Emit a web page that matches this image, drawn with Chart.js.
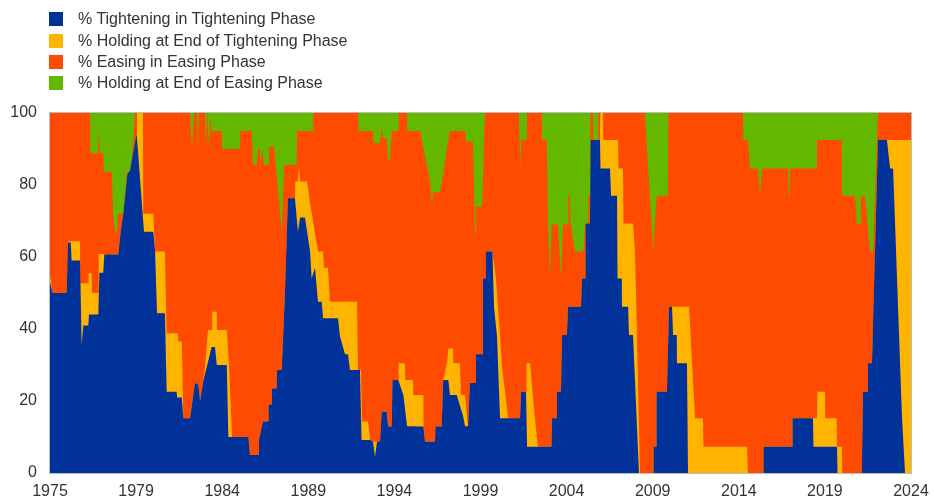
<!DOCTYPE html>
<html>
<head>
<meta charset="utf-8">
<title>Monetary policy phases</title>
<style>
  html, body { margin: 0; padding: 0; background: #fff; }
  #wrap { position: relative; width: 934px; height: 503px; }
  #legend {
    position: absolute; left: 49px; top: 8.7px;
    font: 16px "Liberation Sans", Arial, sans-serif; color: #333;
  }
  #legend .item { height: 21.3px; display: flex; align-items: center; white-space: nowrap; }
  #legend .box { width: 14px; height: 14px; margin-right: 15px; flex: none; }
</style>
</head>
<body>
<div id="wrap">
  <canvas id="chart" width="934" height="503"></canvas>
  <div id="legend"></div>
</div>

<script src="https://cdn.jsdelivr.net/npm/chart.js"></script>
<script>
  // Series names, bottom layer first
  const seriesNames = [
    "% Tightening in Tightening Phase",
    "% Holding at End of Tightening Phase",
    "% Easing in Easing Phase",
    "% Holding at End of Easing Phase",
  ];

  const xTickLabels = ["1975", "1979", "1984", "1989", "1994", "1999", "2004", "2009", "2014", "2019", "2024"];
  const yTicks = [0, 20, 40, 60, 80, 100];

  // Upper edge of each stacked layer, [year, cumulative %]
  const tighteningTop = [
    [1975.00,53],[1975.15,50],[1975.95,50],[1976.02,64],[1976.18,64],[1976.23,59],[1976.71,59],[1976.80,35.6],
    [1976.90,41],[1977.18,41],[1977.22,44],[1977.75,44],[1977.81,55.6],[1978.03,55.6],[1978.09,60.7],[1978.89,60.7],
    [1979.02,67],[1979.17,72],[1979.40,83],[1979.55,84],[1979.93,94.4],[1980.35,67],[1980.88,67],[1980.98,61.5],
    [1981.09,44.4],[1981.54,44.4],[1981.64,22.6],[1982.21,22.6],[1982.23,21],[1982.50,21],[1982.59,15.2],[1982.97,15.2],
    [1983.25,25],[1983.44,24.5],[1983.54,20],[1983.72,25.5],[1984.20,35],[1984.39,35],[1984.49,30],[1985.06,30],
    [1985.15,10],[1986.29,10],[1986.38,5],[1986.85,5],[1986.89,9.2],[1987.12,14.3],[1987.41,14.3],[1987.44,19],
    [1987.62,19],[1987.63,23.5],[1987.90,23.5],[1987.92,28.6],[1988.19,28.6],[1988.37,50],[1988.54,76.3],[1988.94,76.3],
    [1989.11,67],[1989.23,71],[1989.51,71],[1989.80,61.5],[1989.89,54],[1990.08,57],[1990.25,47.6],[1990.46,47.6],
    [1990.54,43],[1991.39,43],[1991.50,38],[1991.79,33],[1991.96,33],[1992.07,28.6],[1992.64,28.6],[1992.73,9.2],
    [1993.21,9.2],[1993.38,8.7],[1993.50,4.5],[1993.61,8.7],[1993.78,8.7],[1993.88,17],[1994.16,17],[1994.24,12.9],
    [1994.45,12.9],[1994.49,25.8],[1994.82,25.8],[1995.11,21.7],[1995.32,13],[1996.25,12.9],[1996.34,8.7],[1996.91,8.7],
    [1996.94,12.9],[1997.29,12.9],[1997.38,25.8],[1997.67,25.8],[1997.76,21.7],[1998.15,21.7],[1998.50,16],[1998.62,13],
    [1998.79,13],[1998.90,25],[1999.19,25],[1999.24,33],[1999.59,33],[1999.64,54],[1999.76,54],[1999.81,61.5],
    [2000.18,61.5],[2000.27,46],[2000.44,38],[2000.61,15.2],[2001.75,15.2],[2001.81,22.6],[2002.09,22.6],[2002.15,7.3],
    [2003.54,7.3],[2003.57,15.2],[2003.80,15.2],[2003.85,22.6],[2004.08,22.6],[2004.14,38.3],[2004.42,38.3],[2004.48,46.2],
    [2005.22,46.2],[2005.28,54],[2005.45,54],[2005.48,69.3],[2005.73,69.3],[2005.76,92.5],[2006.30,92.5],[2006.33,84.6],
    [2006.87,84.6],[2006.93,77],[2007.27,77],[2007.30,54],[2007.54,54],[2007.55,46.2],[2007.90,46.2],[2007.95,38.3],
    [2008.18,38.3],[2008.52,0],[2009.32,0],[2009.35,7.3],[2009.49,7.3],[2009.52,22.6],[2010.11,22.6],[2010.23,46.2],
    [2010.40,46.2],[2010.46,38.3],[2010.67,38.3],[2010.68,30.5],[2011.25,30.5],[2011.31,0],[2015.58,0],[2015.61,7.3],
    [2017.23,7.3],[2017.26,15.2],[2018.42,15.2],[2018.45,7.3],[2019.79,7.3],[2019.82,0],[2021.20,0],[2021.27,22.6],
    [2021.50,22.6],[2021.55,30.5],[2021.78,30.5],[2022.12,92.5],[2022.63,92.5],[2022.81,84.6],[2022.98,84.6],[2023.49,15.2],
    [2023.66,0],[2024.00,0],
  ];

  const holdTighteningTop = [
    [1975.00,55],[1975.15,50],[1975.95,50],[1976.02,64.4],[1976.71,64.4],[1976.72,52.7],[1977.18,52.7],[1977.20,55.5],
    [1977.37,55.5],[1977.39,50],[1977.75,50],[1977.77,60.8],[1978.03,60.8],[1978.09,60.7],[1978.89,60.7],[1979.02,67],
    [1979.17,72],[1979.40,83],[1979.55,84],[1979.93,94.4],[1979.95,100],[1980.29,100],[1980.31,72],[1980.88,72],
    [1980.98,61.5],[1981.54,61.5],[1981.64,38.8],[1982.28,38.8],[1982.30,36.5],[1982.50,36.5],[1982.59,15.2],[1982.97,15.2],
    [1983.25,25],[1983.44,24.5],[1983.54,20],[1983.82,29],[1983.99,39.7],[1984.22,39.7],[1984.24,44.8],[1984.49,44.8],
    [1984.50,39.7],[1985.06,39.7],[1985.19,30],[1985.36,10],[1986.29,10],[1986.38,5],[1986.85,5],[1986.89,9.2],
    [1987.12,14.3],[1987.41,14.3],[1987.44,19],[1987.62,19],[1987.63,23.5],[1987.90,23.5],[1987.92,28.6],[1988.19,28.6],
    [1988.37,50],[1988.54,76.3],[1988.94,76.3],[1988.96,81],[1989.11,81],[1989.17,85],[1989.23,81],[1989.63,81],
    [1989.80,75],[1989.97,70],[1990.25,61.5],[1990.54,61.5],[1990.59,57],[1990.82,57],[1990.94,47.6],[1992.47,47.6],
    [1992.53,28.6],[1992.70,28.6],[1992.76,14.3],[1993.10,14.3],[1993.21,9.2],[1993.38,8.7],[1993.78,8.7],[1993.88,17],
    [1994.16,17],[1994.24,12.9],[1994.45,12.9],[1994.49,25.8],[1994.82,25.8],[1994.84,30.5],[1995.20,30.5],[1995.22,25.8],
    [1995.66,25.8],[1995.68,21.7],[1996.25,21.7],[1996.26,12.9],[1996.34,8.7],[1996.91,8.7],[1996.94,12.9],[1997.29,12.9],
    [1997.38,25.8],[1997.59,30.5],[1997.67,34.6],[1997.94,34.6],[1997.95,30.5],[1998.33,30.5],[1998.39,21.7],[1998.62,21.7],
    [1998.79,13],[1998.90,25],[1999.19,25],[1999.24,33],[1999.59,33],[1999.64,54],[1999.76,54],[1999.81,61.5],
    [2000.18,61.5],[2000.38,54],[2000.61,38.3],[2000.72,30],[2001.07,15.2],[2001.75,15.2],[2001.81,22.6],[2002.09,22.6],
    [2002.12,30.5],[2002.32,30.5],[2002.60,15],[2002.77,7.3],[2003.54,7.3],[2003.57,15.2],[2003.80,15.2],[2003.85,22.6],
    [2004.08,22.6],[2004.14,38.3],[2004.42,38.3],[2004.48,46.2],[2005.22,46.2],[2005.28,54],[2005.45,54],[2005.48,69.3],
    [2005.73,69.3],[2005.76,92.5],[2006.30,92.5],[2006.32,100],[2006.47,100],[2006.49,92.5],[2007.33,92.5],[2007.35,84.6],
    [2007.61,84.6],[2007.64,69.3],[2008.18,69.3],[2008.29,61.5],[2008.35,50],[2008.58,0],[2009.32,0],[2009.35,7.3],
    [2009.49,7.3],[2009.52,22.6],[2010.11,22.6],[2010.23,46.2],[2011.37,46.2],[2011.71,15.2],[2012.16,15.2],[2012.19,7.3],
    [2014.67,7.3],[2014.72,0],[2015.58,0],[2015.61,7.3],[2017.23,7.3],[2017.26,15.2],[2018.65,15.2],[2018.68,22.6],
    [2019.11,22.6],[2019.12,15.2],[2019.77,15.2],[2019.79,7.3],[2020.07,7.3],[2020.09,0],[2021.20,0],[2021.27,22.6],
    [2021.50,22.6],[2021.55,30.5],[2021.78,30.5],[2022.12,92.5],[2024.00,92.5],
  ];

  const easingTop = [
    [1975.00,100],[1977.28,100],[1977.29,88.8],[1977.73,88.8],[1977.79,95],[1977.85,88.8],[1978.03,88.8],[1978.07,83.7],
    [1978.53,83.7],[1978.59,72],[1978.70,67],[1978.81,67],[1978.87,72],[1979.17,72],[1979.38,83.7],[1979.61,83.7],
    [1979.84,100],[1982.97,100],[1983.08,90],[1983.20,100],[1983.37,100],[1983.42,90],[1983.48,100],[1983.82,100],
    [1983.88,90],[1983.94,100],[1983.99,100],[1984.05,90],[1984.11,100],[1984.20,95],[1984.77,95],[1984.79,90],
    [1985.81,90],[1985.83,95],[1986.48,95],[1986.55,85.6],[1986.76,85.6],[1986.84,90],[1986.95,90],[1986.97,85.6],
    [1987.07,90],[1987.12,90],[1987.18,85.6],[1987.41,85.6],[1987.46,90.6],[1987.75,90.6],[1988.19,67],[1988.32,85.6],
    [1989.04,85.6],[1989.06,95],[1989.97,95],[1989.98,100],[1992.53,100],[1992.55,95],[1993.38,95],[1993.40,91.7],
    [1993.78,91.7],[1993.88,96],[1993.95,93],[1994.16,93],[1994.24,87],[1994.35,87],[1994.45,95],[1994.82,95],
    [1994.84,100],[1995.32,100],[1995.33,95],[1996.06,95],[1996.63,80.8],[1996.74,74],[1996.80,78],[1997.20,78],
    [1997.76,95],[1998.62,95],[1998.68,92],[1999.07,92],[1999.19,67],[1999.24,74],[1999.59,74],[1999.70,92.5],
    [1999.76,100],[2001.69,100],[2001.71,92.5],[2001.78,84.6],[2001.81,92.5],[2002.13,92.5],[2002.15,100],[2002.98,100],
    [2003.00,92.5],[2003.27,92.5],[2003.34,69],[2003.46,54],[2003.55,69],[2003.91,69],[2004.08,54],[2004.20,69],
    [2004.48,69],[2004.50,77],[2004.59,77],[2004.63,69],[2004.88,61.5],[2005.35,61.5],[2005.45,69.3],[2005.62,69.3],
    [2005.64,77],[2005.73,77],[2005.75,100],[2005.90,100],[2005.92,92.5],[2006.19,92.5],[2006.20,100],[2008.86,100],
    [2009.32,61.5],[2009.53,77],[2010.17,77],[2010.19,100],[2014.44,100],[2014.46,92.5],[2014.72,92.5],[2014.84,84.6],
    [2015.29,84.6],[2015.41,77],[2015.52,84.6],[2017.00,84.6],[2017.06,77],[2017.11,84.6],[2018.63,84.6],[2018.65,92.5],
    [2020.06,92.5],[2020.07,77],[2020.81,77],[2020.93,69],[2021.10,69],[2021.15,77],[2021.38,77],[2021.67,61.5],
    [2021.84,61.5],[2022.12,100],[2024.00,100],
  ];

  const holdEasingTop = [[1975.00,100],[2024.00,100]];

  const layers = [tighteningTop, holdTighteningTop, easingTop, holdEasingTop];
  const colors = ["#003299", "#FFB400", "#FF4B00", "#65B800"];

  // Legend (HTML, stacked vertically like the original)
  const legendEl = document.getElementById("legend");
  seriesNames.forEach((name, i) => {
    const row = document.createElement("div");
    row.className = "item";
    row.innerHTML = `<span class="box" style="background:${colors[i]}"></span><span>${name}</span>`;
    legendEl.appendChild(row);
  });

  // Thin grey frame round the plot area
  const framePlugin = {
    id: "frame",
    afterDatasetsDraw(chart) {
      const { ctx, chartArea: a } = chart;
      ctx.save();
      ctx.strokeStyle = "#bdbdbd";
      ctx.lineWidth = 1;
      ctx.strokeRect(Math.round(a.left) - 0.5, Math.round(a.top) - 0.5,
        Math.round(a.width) + 1, Math.round(a.height) + 1);
      ctx.restore();
    },
  };

  Chart.defaults.font.family = '"Liberation Sans", Arial, sans-serif';
  Chart.defaults.font.size = 16;
  Chart.defaults.color = "#333";

  const xMin = 1975, xMax = 2024;

  new Chart(document.getElementById("chart"), {
    type: "line",
    data: {
      datasets: layers.map((data, i) => ({
        label: seriesNames[i],
        data: data,
        backgroundColor: colors[i],
        borderWidth: 0,
        fill: "origin",
      })),
    },
    options: {
      responsive: false,
      animation: false,
      elements: {
        line: { tension: 0, borderWidth: 0 },
        point: { radius: 0, hoverRadius: 0 },
      },
      layout: { padding: { top: 113, right: 23, left: 0, bottom: 0 } },
      plugins: {
        legend: { display: false },
        tooltip: { enabled: false },
      },
      events: [],
      scales: {
        x: {
          type: "linear",
          min: xMin,
          max: xMax,
          grid: { display: false, drawTicks: false },
          border: { display: false },
          afterFit(scale) { scale.height = 30; },
          afterBuildTicks(scale) {
            const step = (xMax - xMin) / (xTickLabels.length - 1);
            scale.ticks = xTickLabels.map((t, i) => ({ value: xMin + i * step }));
          },
          ticks: {
            autoSkip: false,
            maxRotation: 0,
            padding: 5,
            font: { lineHeight: 1.75 },
            callback: (v, i) => xTickLabels[i],
          },
        },
        y: {
          min: 0,
          max: 100,
          grid: { display: false, drawTicks: false },
          border: { display: false },
          afterFit(scale) { scale.width = 50; },
          afterBuildTicks(scale) {
            scale.ticks = yTicks.map((v) => ({ value: v }));
          },
          ticks: { padding: 13 },
        },
      },
    },
    plugins: [framePlugin],
  });
</script>
</body>
</html>
